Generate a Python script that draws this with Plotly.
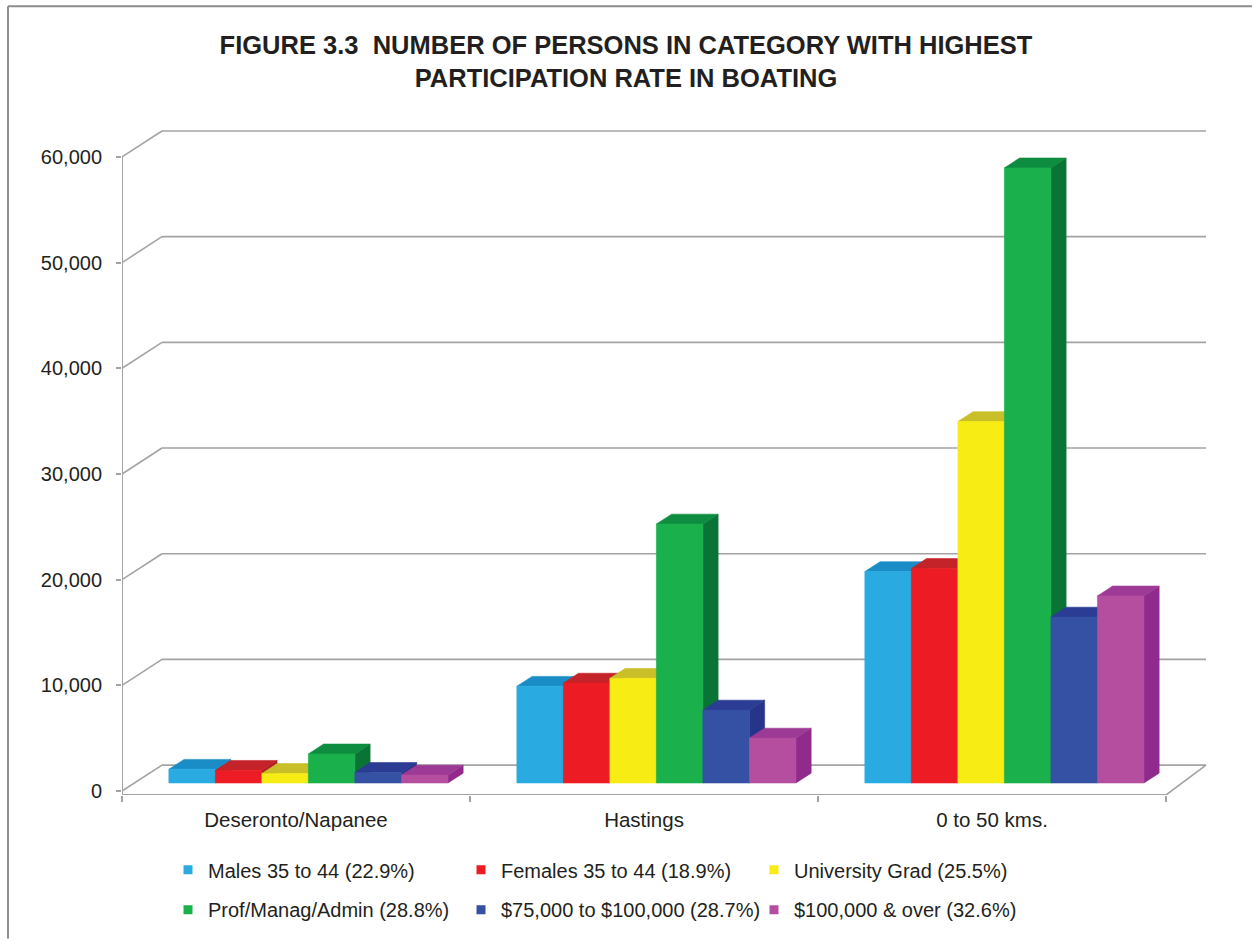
import plotly.graph_objects as go

# ---- data -------------------------------------------------------------
categories = ["Deseronto/Napanee", "Hastings", "0 to 50 kms."]

series_names = [
    "Males 35 to 44 (22.9%)",
    "Females 35 to 44 (18.9%)",
    "University Grad (25.5%)",
    "Prof/Manag/Admin (28.8%)",
    "$75,000 to $100,000 (28.7%)",
    "$100,000 & over (32.6%)",
]

males_35_44 = [1300, 9150, 20000]
females_35_44 = [1200, 9450, 20300]
university_grad = [900, 9900, 34200]
prof_manag_admin = [2750, 24500, 58200]
income_75k_100k = [1000, 6900, 15700]
income_100k_over = [750, 4250, 17700]

series_values = [males_35_44, females_35_44, university_grad,
                 prof_manag_admin, income_75k_100k, income_100k_over]

y_tick_values = [0, 10000, 20000, 30000, 40000, 50000, 60000]
y_tick_labels = ["0", "10,000", "20,000", "30,000", "40,000", "50,000", "60,000"]

# ---- colours (front, top, side) ---------------------------------------
front_colors = ["#29ABE2", "#ED1C24", "#F7EC13", "#1AB04B", "#3451A3", "#B54E9F"]
top_colors = ["#1A8DC6", "#C4232A", "#C9BF28", "#0E8C40", "#2A3C94", "#9D3A95"]
side_colors = ["#1C7FB8", "#B01E24", "#D8CC1A", "#0A7336", "#26358A", "#902A8C"]

# ---- page geometry ----------------------------------------------------
W, H = 1252, 941
PLOT_L, PLOT_R = 122, 1210          # plot area in px
PLOT_T, PLOT_B = 125, 797
PX_PER_UNIT = 106 / 10000           # vertical px per value unit
ZERO_PX = 793                       # px row of value 0 on the front plane
CAT_PX = 348                        # px per category on the front plane

Y_MIN = -(PLOT_B - ZERO_PX) / PX_PER_UNIT
Y_MAX = (ZERO_PX - PLOT_T) / PX_PER_UNIT
X_MIN = -0.5
X_MAX = X_MIN + (PLOT_R - PLOT_L) / CAT_PX

# oblique depth of the floor / walls, in data units
DEPTH_X = 40 / CAT_PX
DEPTH_Y = 26 / PX_PER_UNIT

# bar placement within the depth, and widths
BAR_FRONT = 0.31
BAR_BACK = 0.69
GAP = 0.099
BAR_W = (1 - 2 * GAP) / 6

FLOOR_Y = Y_MIN
N_CAT = len(categories)


def paper_x(px):
    return (px - PLOT_L) / (PLOT_R - PLOT_L)


def paper_y(px):
    return (PLOT_B - px) / (PLOT_B - PLOT_T)


fig = go.Figure()

# ---- 3D bars: each face is a filled polygon in data coordinates --------
ddx = (BAR_BACK - BAR_FRONT) * DEPTH_X
ddy = (BAR_BACK - BAR_FRONT) * DEPTH_Y
base = BAR_FRONT * DEPTH_Y

for k, (name, vals) in enumerate(zip(series_names, series_values)):
    faces = {"side": ([], []), "top": ([], []), "front": ([], [])}
    for i, v in enumerate(vals):
        xl = i - 0.5 + GAP + k * BAR_W + BAR_FRONT * DEPTH_X
        xr = xl + BAR_W
        yb = base
        yt = base + v
        polys = {
            "front": [(xl, yb), (xr, yb), (xr, yt), (xl, yt)],
            "top": [(xl, yt), (xr, yt), (xr + ddx, yt + ddy), (xl + ddx, yt + ddy)],
            "side": [(xr, yb), (xr + ddx, yb + ddy), (xr + ddx, yt + ddy), (xr, yt)],
        }
        for face, pts in polys.items():
            xs, ys = faces[face]
            xs.extend([p[0] for p in pts] + [pts[0][0], None])
            ys.extend([p[1] for p in pts] + [pts[0][1], None])

    for face, color in (("side", side_colors[k]), ("top", top_colors[k]),
                        ("front", front_colors[k])):
        xs, ys = faces[face]
        fig.add_trace(go.Scatter(
            x=xs, y=ys, mode="lines", fill="toself", fillcolor=color,
            line=dict(color=color, width=0.6), hoverinfo="skip",
            showlegend=False, legendgroup=name,
        ))

# legend entries (two rows of three)
for k, name in enumerate(series_names):
    fig.add_trace(go.Scatter(
        x=[None], y=[None], mode="markers", name=name, legendgroup=name,
        marker=dict(symbol="square", size=9, color=front_colors[k]),
        legend="legend" if k < 3 else "legend2",
    ))

# ---- walls, floor and gridlines ---------------------------------------
GRID = "#A3A3A3"
shapes = []
for t in y_tick_values:
    shapes.append(dict(type="line", xref="x", yref="y", layer="below",
                       x0=X_MIN, y0=t, x1=X_MIN + DEPTH_X, y1=t + DEPTH_Y,
                       line=dict(color=GRID, width=1.6)))
    shapes.append(dict(type="line", xref="x", yref="y", layer="below",
                       x0=X_MIN + DEPTH_X, y0=t + DEPTH_Y,
                       x1=N_CAT - 0.5 + DEPTH_X, y1=t + DEPTH_Y,
                       line=dict(color=GRID, width=1.6)))
# floor front edge and right edge
shapes.append(dict(type="line", xref="x", yref="y", layer="below",
                   x0=X_MIN, y0=FLOOR_Y, x1=N_CAT - 0.5, y1=FLOOR_Y,
                   line=dict(color=GRID, width=2)))
shapes.append(dict(type="line", xref="x", yref="y", layer="below",
                   x0=N_CAT - 0.5, y0=FLOOR_Y, x1=N_CAT - 0.5 + DEPTH_X, y1=DEPTH_Y,
                   line=dict(color=GRID, width=1.6)))
# front value axis
shapes.append(dict(type="line", xref="x", yref="y", layer="below",
                   x0=X_MIN, y0=FLOOR_Y, x1=X_MIN, y1=y_tick_values[-1],
                   line=dict(color=GRID, width=2)))
# page frame (top and left edges)
FRAME = "#8C8C8C"
shapes.append(dict(type="line", xref="paper", yref="paper",
                   x0=paper_x(8), y0=paper_y(6), x1=paper_x(W), y1=paper_y(6),
                   line=dict(color=FRAME, width=2)))
shapes.append(dict(type="line", xref="paper", yref="paper",
                   x0=paper_x(8), y0=paper_y(6), x1=paper_x(8), y1=paper_y(H),
                   line=dict(color=FRAME, width=2)))

FONT = "Arial, Liberation Sans, sans-serif"
TEXT = "#231F20"

legend_common = dict(
    orientation="h", xanchor="left", yanchor="middle",
    entrywidth=248, font=dict(family=FONT, size=20, color=TEXT),
    bgcolor="rgba(0,0,0,0)", itemwidth=30, tracegroupgap=0,
)

fig.update_layout(
    width=W, height=H,
    margin=dict(l=PLOT_L, r=W - PLOT_R, t=PLOT_T, b=H - PLOT_B, pad=0),
    paper_bgcolor="white", plot_bgcolor="white",
    font=dict(family=FONT, size=20, color=TEXT),
    title=dict(
        text="FIGURE 3.3  NUMBER OF PERSONS IN CATEGORY WITH HIGHEST<br>"
             "PARTICIPATION RATE IN BOATING",
        x=0.5, xanchor="center", xref="container",
        y=1 - 54 / H, yanchor="top",
        font=dict(family=FONT, size=25.5, weight="bold", color=TEXT),
    ),
    xaxis=dict(
        range=[X_MIN, X_MAX], showgrid=False, zeroline=False, showline=False,
        tickmode="array", tickvals=list(range(N_CAT)), ticktext=categories,
        ticks="", ticklabelstandoff=10,
        tickfont=dict(family=FONT, size=20.5, color=TEXT),
        minor=dict(tickmode="array", tickvals=[i - 0.5 for i in range(N_CAT + 1)],
                   ticks="outside", ticklen=6, tickwidth=1.6, tickcolor=GRID),
        fixedrange=True,
    ),
    yaxis=dict(
        range=[Y_MIN, Y_MAX], showgrid=False, zeroline=False, showline=False,
        tickmode="array", tickvals=y_tick_values, ticktext=y_tick_labels,
        ticks="outside", ticklen=5, tickwidth=1.6, tickcolor=GRID,
        ticklabelstandoff=10,
        tickfont=dict(family=FONT, size=20, color=TEXT),
        fixedrange=True,
    ),
    legend=dict(x=paper_x(168), y=paper_y(872), **legend_common),
    legend2=dict(x=paper_x(168), y=paper_y(912), **legend_common),
    shapes=shapes,
    showlegend=True,
)

fig.write_html("out.html")
